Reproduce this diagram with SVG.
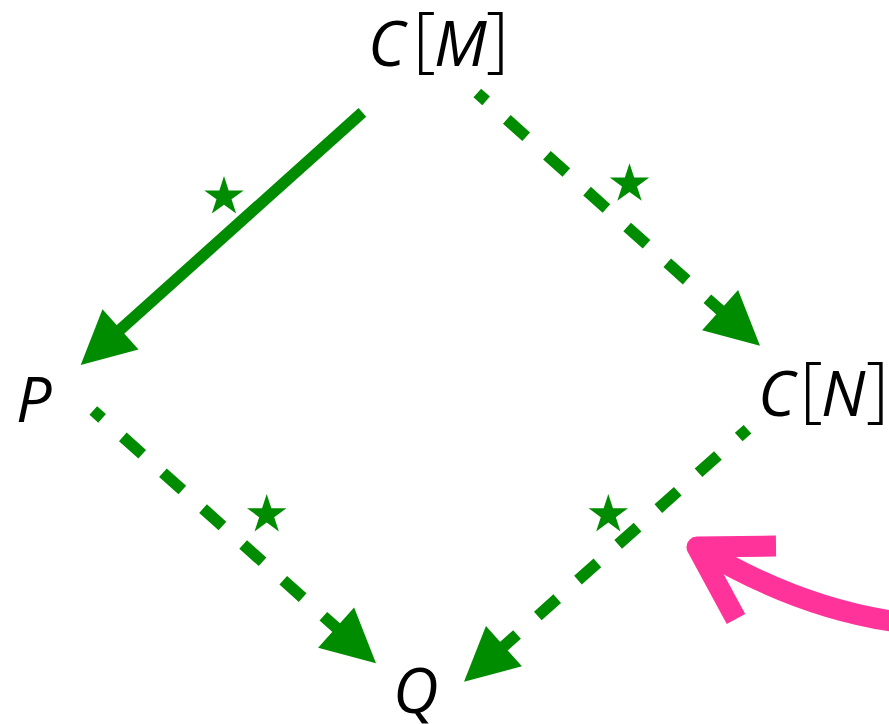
<svg xmlns="http://www.w3.org/2000/svg" xmlns:xlink="http://www.w3.org/1999/xlink" width="889" height="724" viewBox="0 0 889 724">
<style>
.lbl{font-family:"Open Sans","Noto Sans","DejaVu Sans",sans-serif;font-size:63px;fill:#000}
.it{font-style:italic}
.br{font-size:71px;font-style:normal;font-weight:300}
.solid{fill:none;stroke:#008c00;stroke-width:11.5}
.dash{fill:none;stroke:#008c00;stroke-width:11.5;stroke-dasharray:26 27.8;stroke-dashoffset:14.2}
.head{fill:#008c00;stroke:none}
.star{fill:#008c00}
.pink{fill:none;stroke:#ff3399;stroke-width:21}
</style>
<defs>
<path id="star" d="M0,-20.7 L4.65,-6.4 L19.69,-6.4 L7.52,2.44 L12.17,16.75 L0,7.91 L-12.17,16.75 L-7.52,2.44 L-19.69,-6.4 L-4.65,-6.4 Z"/>
</defs>
<g id="node-CM"><text class="lbl"><tspan class="it" x="368" y="66">C</tspan><tspan class="br" x="413" y="64">[</tspan><tspan class="it" x="434" y="66">M</tspan><tspan class="br" x="486" y="64">]</tspan></text></g>
<g id="node-P"><text class="lbl it" x="16" y="422">P</text></g>
<g id="node-CN"><text class="lbl"><tspan class="it" x="758" y="416">C</tspan><tspan class="br" x="800" y="414">[</tspan><tspan class="it" x="821" y="416">N</tspan><tspan class="br" x="866" y="414">]</tspan></text></g>
<g id="node-Q"><text class="lbl it" x="393" y="713">Q</text></g>
<g id="connectors">
<line class="solid" x1="362.4" y1="112.4" x2="117" y2="332.5"/>
<polygon class="head" points="80.7,365 102.5,309.2 138.5,349.4"/>
<line class="dash" x1="477.3" y1="93" x2="723.3" y2="312.9"/>
<polygon class="head" points="760,345.7 702.1,330.2 738.1,290"/>
<line class="dash" x1="93.3" y1="410.5" x2="339.3" y2="630.4"/>
<polygon class="head" points="376,663.2 318.1,647.7 354.1,607.5"/>
<line class="dash" x1="747.5" y1="429.2" x2="500.9" y2="648.8"/>
<polygon class="head" points="464,681.7 521.9,666.3 485.96,625.9"/>
<use href="#star" class="star" x="224" y="196.8"/>
<use href="#star" class="star" x="629.5" y="184"/>
<use href="#star" class="star" x="266.7" y="514.7"/>
<use href="#star" class="star" x="608.3" y="514.7"/>
<path class="pink" d="M697,547 Q800,610 905,623"/>
<path class="pink" d="M776,546 L697,547 L736,619" stroke-linejoin="round"/>
</g>
</svg>
